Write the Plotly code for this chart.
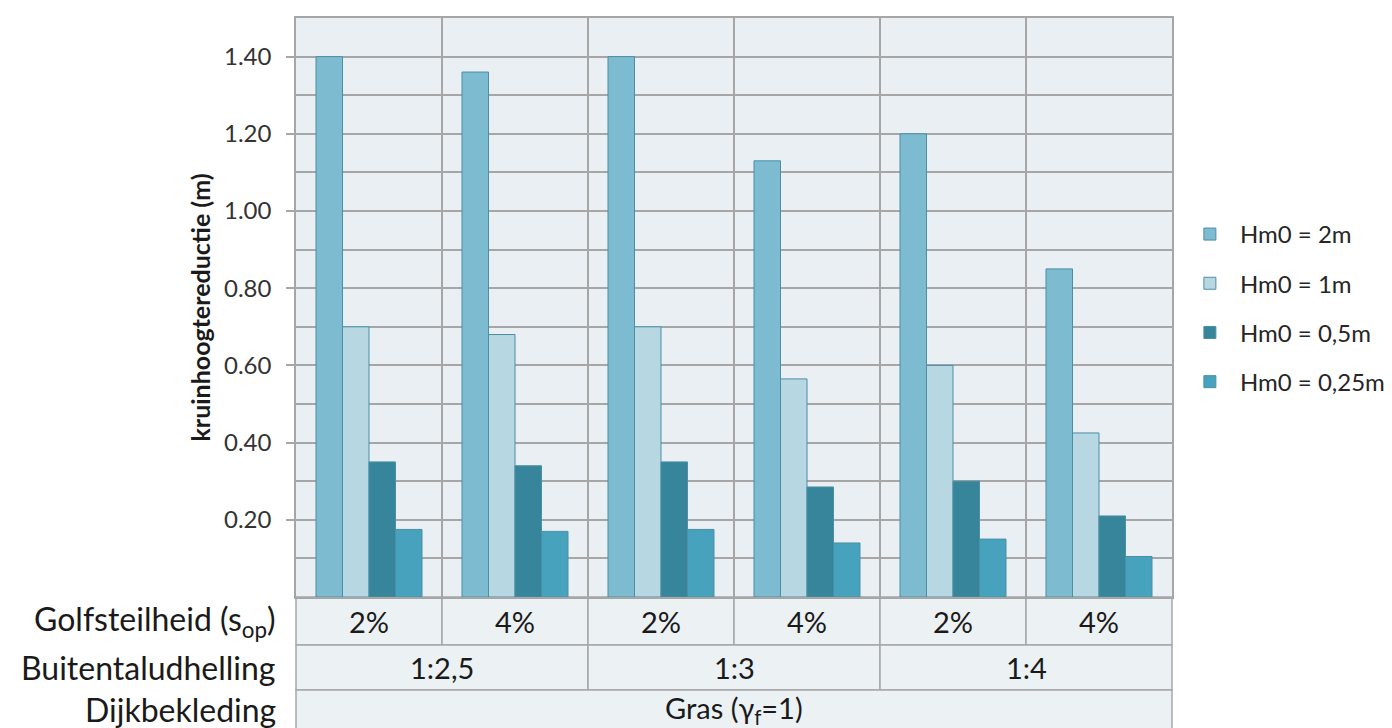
import plotly.graph_objects as go

# Wave steepness per column, outer slope per pair of columns, dike cover for all
steepness = ["2%", "4%", "2%", "4%", "2%", "4%"]
slopes = ["1:2,5", "1:3", "1:4"]
cover = "Gras (γ<sub>f</sub>=1)"

series_names = ["Hm0 = 2m", "Hm0 = 1m", "Hm0 = 0,5m", "Hm0 = 0,25m"]
hm0_2 = [1.40, 1.36, 1.40, 1.13, 1.20, 0.85]
hm0_1 = [0.70, 0.68, 0.70, 0.565, 0.60, 0.425]
hm0_05 = [0.35, 0.34, 0.35, 0.285, 0.30, 0.21]
hm0_025 = [0.175, 0.17, 0.175, 0.14, 0.15, 0.105]
series_values = [hm0_2, hm0_1, hm0_05, hm0_025]
series_colors = ["#7DBBD1", "#B7D7E3", "#37859A", "#47A3BD"]

y_ticks = [0.2, 0.4, 0.6, 0.8, 1.0, 1.2, 1.4]
row_labels = ["Golfsteilheid (s<sub>op</sub>)", "Buitentaludhelling", "Dijkbekleding"]

FONT = "Lato"
GRID = "#A6A6A6"
CELL_BG = "#ECF1F4"
n = len(steepness)
xs = list(range(n))

fig = go.Figure()
for name, vals, col in zip(series_names, series_values, series_colors):
    fig.add_trace(go.Bar(
        x=xs, y=vals, name=name, legendgroup=name,
        marker=dict(color=col, line=dict(color="#4A8FA5", width=1)),
    ))

# Table below the plot: row boundaries in paper units
W, H = 1392, 728
ml, mr, mt, mb = 296, 220, 18, 131
ph = H - mt - mb


def py(pix):
    return (H - mb - pix) / ph


def px(xv):
    return (xv + 0.5) / n


rows = [(py(597), py(645)), (py(645), py(690)), (py(690), py(760))]
shapes = []
annotations = []
tfont = dict(family=FONT, size=29, color="#1A1A1A")
lfont = dict(family=FONT, size=32, color="#1A1A1A")


def cell_text(x, y, text, font, xanchor="center"):
    return dict(xref="paper", yref="paper", x=x, y=y, text=text, showarrow=False,
                font=font, xanchor=xanchor, yanchor="middle")


def cell_rect(x0, x1, y0, y1):
    return dict(type="rect", xref="paper", yref="paper", x0=x0, x1=x1, y0=y0, y1=y1,
                fillcolor=CELL_BG, line=dict(color=GRID, width=1.5), layer="below")


# row 1: one cell per column
for i, s in enumerate(steepness):
    shapes.append(cell_rect(px(i - 0.5), px(i + 0.5), rows[0][1], rows[0][0]))
    annotations.append(cell_text(px(i), (rows[0][0] + rows[0][1]) / 2, s, tfont))
# row 2: one cell per slope (spans two columns)
span = n // len(slopes)
for j, s in enumerate(slopes):
    a, b = j * span - 0.5, (j + 1) * span - 0.5
    shapes.append(cell_rect(px(a), px(b), rows[1][1], rows[1][0]))
    annotations.append(cell_text(px((a + b) / 2), (rows[1][0] + rows[1][1]) / 2, s, tfont))
# row 3: whole width
shapes.append(cell_rect(0, 1, rows[2][1], rows[2][0]))
annotations.append(cell_text(0.5, py(709), cover, tfont))

# row labels on the left
label_y = [(rows[0][0] + rows[0][1]) / 2, (rows[1][0] + rows[1][1]) / 2, py(709)]
for lab, yv in zip(row_labels, label_y):
    annotations.append(cell_text((278 - ml) / (W - ml - mr), yv, lab, lfont, xanchor="right"))

fig.update_layout(
    width=W, height=H,
    margin=dict(l=ml, r=mr, t=mt, b=mb, autoexpand=False),
    paper_bgcolor="white",
    plot_bgcolor="#E9EFF3",
    barmode="group",
    bargap=0.274,
    bargroupgap=0,
    font=dict(family=FONT, color="#333333"),
    showlegend=True,
    legend=dict(x=1.009, y=0.665, xanchor="left", yanchor="top",
                font=dict(family=FONT, size=24, color="#262626"),
                tracegroupgap=15, itemwidth=50, bgcolor="rgba(0,0,0,0)"),
    shapes=shapes,
    annotations=annotations,
)
fig.update_xaxes(
    range=[-0.5, n - 0.5],
    tickmode="array", tickvals=[i + 0.5 for i in range(n - 1)],
    showticklabels=False, ticks="",
    showgrid=True, gridcolor=GRID, gridwidth=1.5,
    showline=True, linecolor=GRID, linewidth=1.5, mirror=True,
    zeroline=False, fixedrange=True,
)
fig.update_yaxes(
    range=[0, 1.5],
    tickmode="array", tickvals=y_ticks, ticktext=[f"{v:.2f}" for v in y_ticks],
    ticks="outside", ticklen=8, tickcolor=GRID, tickwidth=1.5,
    ticklabelstandoff=10,
    tickfont=dict(family=FONT, size=24, color="#333333"),
    showgrid=True, gridcolor=GRID, gridwidth=1.5,
    minor=dict(dtick=0.1, tick0=0, showgrid=True, gridcolor=GRID, gridwidth=1.5, ticks=""),
    showline=True, linecolor=GRID, linewidth=1.5, mirror=True,
    zeroline=False,
    title=dict(text="<b>kruinhoogtereductie (m)</b>", standoff=6,
               font=dict(family=FONT, size=25, color="#1A1A1A")),
)

fig.write_html("out.html")
